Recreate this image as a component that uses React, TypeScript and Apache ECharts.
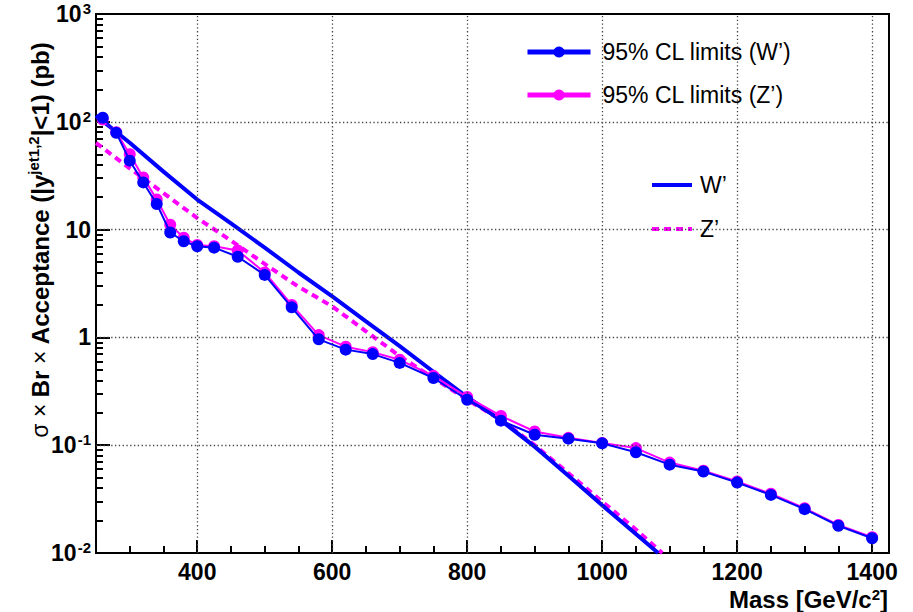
import React, { useEffect, useRef } from 'react';
import * as echarts from 'echarts';

// ---- data ----
const limitMass = [260, 280, 300, 320, 340, 360, 380, 400, 425, 460, 500, 540, 580, 620, 660, 700, 750, 800, 850, 900, 950, 1000, 1050, 1100, 1150, 1200, 1250, 1300, 1350, 1400];
const limitW = [109, 79, 43.6, 27.4, 17.3, 9.4, 7.8, 7.0, 6.8, 5.6, 3.8, 1.9, 0.96, 0.77, 0.70, 0.58, 0.42, 0.264, 0.169, 0.125, 0.115, 0.104, 0.086, 0.066, 0.057, 0.045, 0.0346, 0.0255, 0.0179, 0.0137];
const limitZ = [105, 80, 50, 30.5, 19, 11.1, 8.4, 7.2, 7.0, 6.4, 4.0, 2.0, 1.05, 0.82, 0.73, 0.62, 0.44, 0.28, 0.187, 0.134, 0.117, 0.105, 0.094, 0.069, 0.058, 0.046, 0.0355, 0.026, 0.0182, 0.014];

const theoryWMass = [250, 300, 350, 400, 450, 500, 550, 600, 650, 700, 750, 800, 850, 900, 950, 1000, 1050, 1083];
const theoryW = [114, 64, 34.5, 19, 11.4, 6.8, 4.0, 2.4, 1.41, 0.83, 0.48, 0.28, 0.17, 0.097, 0.052, 0.0277, 0.015, 0.01];
const theoryZMass = [250, 300, 350, 400, 450, 500, 550, 600, 650, 700, 750, 800, 850, 900, 950, 1000, 1050, 1089];
const theoryZ = [63.7, 37, 21.8, 12.8, 7.9, 4.8, 2.95, 1.94, 1.14, 0.67, 0.42, 0.264, 0.172, 0.1, 0.055, 0.03, 0.0165, 0.01];

const xMajorTicks = [400, 600, 800, 1000, 1200, 1400];
const xMinorTicks = [300, 350, 450, 500, 550, 650, 700, 750, 850, 900, 950, 1050, 1100, 1150, 1250, 1300, 1350];
const yDecades = [0.1, 1, 10, 100];
const yMinorTicks: number[] = [];
[0.01, 0.1, 1, 10, 100].forEach((d) => {
  for (let k = 2; k <= 9; k++) yMinorTicks.push(+(d * k).toPrecision(3));
});

const nameLimW = '95% CL limits (W\u2019)';
const nameLimZ = '95% CL limits (Z\u2019)';
const nameThW = 'W\u2019';
const nameThZ = 'Z\u2019';

const FONT = "'Liberation Sans', Arial, Helvetica, sans-serif";
const BLUE = '#0000ff';
const MAGENTA = '#ff00ff';

const pairs = (xs: number[], ys: number[]) => xs.map((x, i) => [x, ys[i]]);
const noSymbol = { color: 'rgba(0,0,0,0)', borderColor: 'rgba(0,0,0,0)', borderWidth: 0, opacity: 0 };

export default function App() {
  const ref = useRef<HTMLDivElement>(null);
  useEffect(() => {
    const chart = echarts.init(ref.current!, null, { renderer: 'svg' });
    const option: any = {
      animation: false,
      backgroundColor: '#fff',
      grid: { left: 96, top: 14, right: 24, bottom: 59, show: true, borderColor: '#000', borderWidth: 2, backgroundColor: 'transparent' },
      xAxis: [
        {
          type: 'value', min: 250, max: 1425, position: 'bottom',
          axisLine: { show: true, lineStyle: { color: '#000', width: 2 } },
          axisTick: { show: true, inside: true, length: 13, customValues: xMajorTicks, lineStyle: { color: '#000', width: 2 } },
          axisLabel: { show: true, customValues: xMajorTicks, margin: 7, lineHeight: 23, formatter: (v: number) => String(v), fontSize: 23, fontWeight: 'bold', fontFamily: FONT, color: '#000' },
          splitLine: { show: false },
        },
        {
          type: 'value', min: 250, max: 1425, position: 'bottom',
          axisLine: { show: false },
          axisTick: { show: true, inside: true, length: 7, customValues: xMinorTicks, lineStyle: { color: '#000', width: 2 } },
          axisLabel: { show: false },
          splitLine: { show: false },
        },
      ],
      yAxis: [
        {
          type: 'log', logBase: 10, min: 0.01, max: 1000, position: 'left',
          axisLine: { show: true, lineStyle: { color: '#000', width: 2 } },
          axisTick: { show: true, inside: true, length: 14, lineStyle: { color: '#000', width: 2 } },
          axisLabel: {
            margin: 5, fontSize: 23, fontWeight: 'bold', fontFamily: FONT, color: '#000',
            formatter: (v: number) => {
              const e = Math.round(Math.log10(v));
              if (e === 0) return '1';
              if (e === 1) return '10';
              return '10{sup|' + e + '}';
            },
            rich: { sup: { fontSize: 15, fontWeight: 'bold', fontFamily: FONT, color: '#000', padding: [0, 0, 11, 1] } },
          },
          splitLine: { show: false },
        },
        {
          type: 'log', logBase: 10, min: 0.01, max: 1000, position: 'left',
          axisLine: { show: false },
          axisTick: { show: true, inside: true, length: 7, customValues: yMinorTicks, lineStyle: { color: '#000', width: 2 } },
          axisLabel: { show: false },
          splitLine: { show: false },
        },
      ],
      legend: [
        {
          data: [{ name: nameLimW }, { name: nameLimZ }],
          orient: 'vertical', left: 505, top: 30,
          itemWidth: 63, itemHeight: 14, itemGap: 19,
          selectedMode: false,
          backgroundColor: '#fff', padding: [10, 40, 10, 20],
          lineStyle: { width: 5 },
          textStyle: { fontSize: 23, fontFamily: FONT, color: '#000', padding: [0, 0, 0, 7], lineHeight: 24 },
        },
        {
          data: [
            { name: nameThW, itemStyle: noSymbol },
            { name: nameThZ, itemStyle: noSymbol },
          ],
          orient: 'vertical', left: 642, top: 163,
          itemWidth: 40, itemHeight: 14, itemGap: 20,
          selectedMode: false,
          backgroundColor: '#fff', padding: [10, 147, 10, 8],
          lineStyle: { width: 4 },
          textStyle: { fontSize: 23, fontFamily: FONT, color: '#000', padding: [0, 0, 0, 3], lineHeight: 24 },
        },
      ],
      graphic: [
        {
          type: 'text', x: 40, y: 240, rotation: Math.PI / 2, z: 10,
          style: {
            text: '{n|\u03c3 \u00d7 }{b|Br }{n|\u00d7 }{b|Acceptance (|y}{s|jet1,2}{b||<1) (pb)}',
            align: 'center', verticalAlign: 'middle',
            rich: {
              n: { fontSize: 23, fontFamily: FONT, fill: '#000' },
              b: { fontSize: 24, fontWeight: 'bold', fontFamily: FONT, fill: '#000' },
              s: { fontSize: 15, fontWeight: 'bold', fontFamily: FONT, fill: '#000', padding: [0, 0, 14, 0] },
            },
          },
        },
        {
          type: 'text', x: 888, y: 599, z: 10,
          style: {
            text: '{b|Mass [GeV/c}{s|2}{b|]}',
            align: 'right', verticalAlign: 'middle',
            rich: {
              b: { fontSize: 24, lineHeight: 22, fontWeight: 'bold', fontFamily: FONT, fill: '#000' },
              s: { fontSize: 15, lineHeight: 14, fontWeight: 'bold', fontFamily: FONT, fill: '#000', padding: [0, 0, 10, 0] },
            },
          },
        },
      ],
      series: [
        {
          name: 'grid', type: 'line', data: [], silent: true, z: 1,
          markLine: {
            silent: true, symbol: ['none', 'none'], label: { show: false },
            lineStyle: { color: '#444', width: 1.3, type: [1.3, 2.5] },
            data: [
              ...xMajorTicks.map((v) => ({ xAxis: v })),
              ...yDecades.map((v) => ({ yAxis: v })),
            ],
          },
        },
        {
          name: nameThZ, type: 'line', data: pairs(theoryZMass, theoryZ), symbol: 'none', z: 3,
          lineStyle: { color: MAGENTA, width: 4, type: [7, 5] }, itemStyle: { color: MAGENTA },
        },
        {
          name: nameThW, type: 'line', data: pairs(theoryWMass, theoryW), symbol: 'none', z: 3,
          lineStyle: { color: BLUE, width: 4 }, itemStyle: { color: BLUE },
        },
        {
          name: nameLimZ, type: 'line', data: pairs(limitMass, limitZ), symbol: 'circle', symbolSize: 12, z: 4,
          lineStyle: { color: MAGENTA, width: 2 }, itemStyle: { color: MAGENTA },
        },
        {
          name: nameLimW, type: 'line', data: pairs(limitMass, limitW), symbol: 'circle', symbolSize: 12, z: 5,
          lineStyle: { color: BLUE, width: 2 }, itemStyle: { color: BLUE },
        },
      ],
    };
    chart.setOption(option);
    return () => chart.dispose();
  }, []);
  return <div ref={ref} style={{ position: 'fixed', left: 0, top: 0, width: 913, height: 612 }} />;
}
